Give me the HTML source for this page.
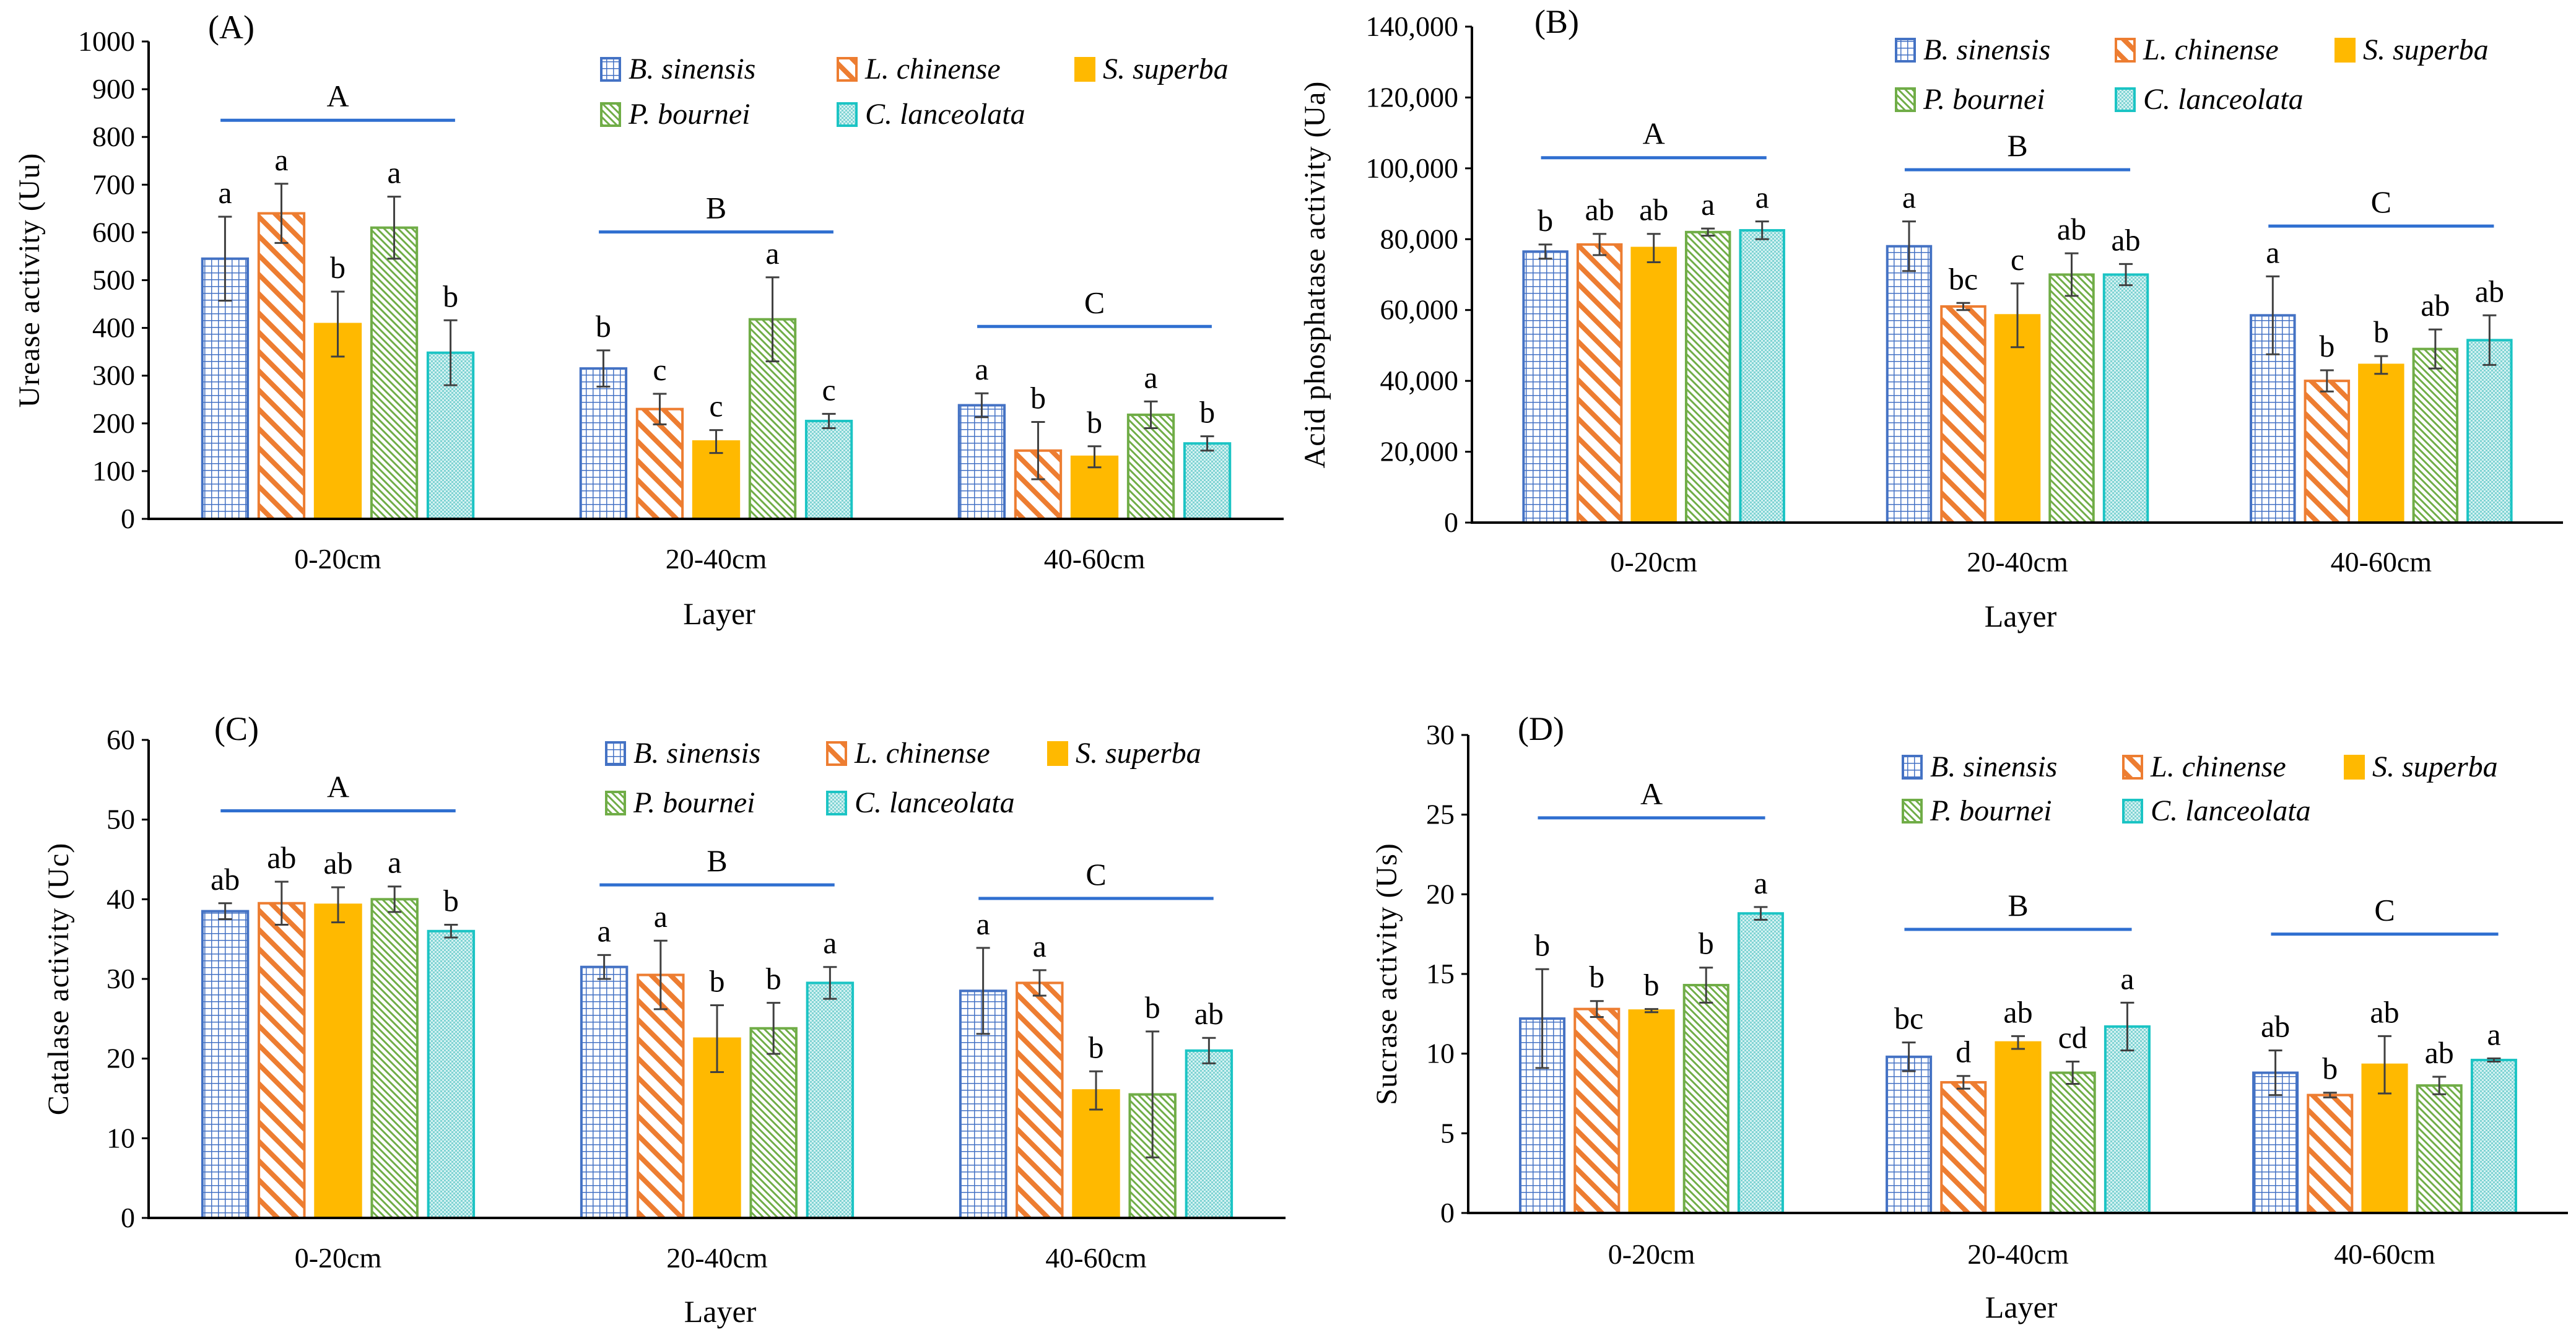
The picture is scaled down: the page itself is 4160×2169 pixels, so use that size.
<!DOCTYPE html>
<html><head><meta charset="utf-8">
<style>
html,body{margin:0;padding:0;background:#fff;}
svg, svg text{font-family:"Liberation Serif","Times New Roman",serif;}
svg{display:block;}
</style></head>
<body>
<svg id="chart" width="4160" height="2169" viewBox="0 0 4160 2169" xmlns="http://www.w3.org/2000/svg" font-family="Liberation Serif, serif">
<defs>
<pattern id="p0" patternUnits="userSpaceOnUse" width="11" height="11"><rect width="11" height="11" fill="#fff"/><path d="M0 0H11M0 0V11" stroke="#4472C4" stroke-width="3"/></pattern>
<pattern id="p1" patternUnits="userSpaceOnUse" width="22" height="22" patternTransform="rotate(-45)"><rect width="22" height="22" fill="#fff"/><rect width="8" height="22" fill="#ED7D31"/></pattern>
<pattern id="p2" patternUnits="userSpaceOnUse" width="10" height="10"><rect width="10" height="10" fill="#FFB900"/></pattern>
<pattern id="p3" patternUnits="userSpaceOnUse" width="8" height="8" patternTransform="rotate(-45)"><rect width="8" height="8" fill="#fff"/><rect width="3" height="8" fill="#70AD47"/></pattern>
<pattern id="p4" patternUnits="userSpaceOnUse" width="6" height="6"><rect width="6" height="6" fill="#d4f2f2"/><rect width="3" height="3" fill="#7fd3d3"/><rect x="3" y="3" width="3" height="3" fill="#7fd3d3"/></pattern>
</defs>
<g id="root" font-family="Liberation Serif, serif"></g>
</svg>
<script>
const categories = ["0-20cm","20-40cm","40-60cm"];
const species = ["B. sinensis","L. chinense","S. superba","P. bournei","C. lanceolata"];
const ureaseMean = [[545,640,408,610,348],[315,230,162,418,205],[238,143,130,218,158]];
const ureaseErr  = [[88,62,68,65,68],[38,32,24,88,15],[25,60,22,28,15]];
const ureaseLetters = [["a","a","b","a","b"],["b","c","c","a","c"],["a","b","b","a","b"]];
const ureaseGroup = ["A","B","C"];
const ureaseGroupY = [835,601,403];

const acidMean = [[76500,78500,77500,82000,82500],[78000,61000,58500,70000,70000],[58500,40000,44500,49000,51500]];
const acidErr  = [[2000,3000,4000,1000,2500],[7000,1000,9000,6000,3000],[11000,3000,2500,5500,7000]];
const acidLetters = [["b","ab","ab","a","a"],["a","bc","c","ab","ab"],["a","b","b","ab","ab"]];
const acidGroup = ["A","B","C"];
const acidGroupY = [103000,99600,83700];

const catalaseMean = [[38.5,39.5,39.3,40,36],[31.5,30.5,22.5,23.8,29.5],[28.5,29.5,16,15.5,21]];
const catalaseErr  = [[1,2.7,2.2,1.6,0.8],[1.5,4.3,4.2,3.2,2],[5.4,1.6,2.4,7.9,1.6]];
const catalaseLetters = [["ab","ab","ab","a","b"],["a","a","b","b","a"],["a","a","b","b","ab"]];
const catalaseGroup = ["A","B","C"];
const catalaseGroupY = [51.1,41.8,40.1];

const sucraseMean = [[12.2,12.8,12.7,14.3,18.8],[9.8,8.2,10.7,8.8,11.7],[8.8,7.4,9.3,8.0,9.6]];
const sucraseErr  = [[3.1,0.5,0.1,1.1,0.4],[0.9,0.4,0.4,0.7,1.5],[1.4,0.15,1.8,0.55,0.1]];
const sucraseLetters = [["b","b","b","b","a"],["bc","d","ab","cd","a"],["ab","b","ab","ab","a"]];
const sucraseGroup = ["A","B","C"];
const sucraseGroupY = [24.8,17.8,17.5];

const ureaseTicks = [0,100,200,300,400,500,600,700,800,900,1000];
const acidTicks = [0,20000,40000,60000,80000,100000,120000,140000];
const catalaseTicks = [0,10,20,30,40,50,60];
const sucraseTicks = [0,5,10,15,20,25,30];

const colors = ["#4472C4","#ED7D31","#FFB900","#70AD47","#1BC4C4"];
const NS = "http://www.w3.org/2000/svg";
const root = document.getElementById("root");
function mk(tag, attrs, parent, text){
  const e = document.createElementNS(NS, tag);
  for (const k in attrs) e.setAttribute(k, attrs[k]);
  if (tag === "text") e.setAttribute("font-family", "Liberation Serif, Times New Roman, serif");
  if (text !== undefined) e.textContent = text;
  (parent || root).appendChild(e);
  return e;
}
function fmt(v, comma){ return comma ? v.toLocaleString("en-US") : String(v); }

const panels = [
 {id:"a", label:"(A)", ytitle:"Urease activity (Uu)", mean:ureaseMean, err:ureaseErr, letters:ureaseLetters, group:ureaseGroup, groupY:ureaseGroupY, ticks:ureaseTicks, comma:false,
  x0:240, x1:2073, y0:838, y1:67, lx:336, ly:62, legX:971, legY:[111,184], legDx:[0,382,766], ytx:48, catY:918, layerY:1008},
 {id:"b", label:"(B)", ytitle:"Acid phosphatase activity (Ua)", mean:acidMean, err:acidErr, letters:acidLetters, group:acidGroup, groupY:acidGroupY, ticks:acidTicks, comma:true,
  x0:2377, x1:4139, y0:844, y1:43, lx:2478, ly:53, legX:3062, legY:[80,160], legDx:[0,355,710], ytx:2124, catY:923, layerY:1012},
 {id:"c", label:"(C)", ytitle:"Catalase activity (Uc)", mean:catalaseMean, err:catalaseErr, letters:catalaseLetters, group:catalaseGroup, groupY:catalaseGroupY, ticks:catalaseTicks, comma:false,
  x0:240, x1:2076, y0:1967, y1:1195, lx:346, ly:1195, legX:979, legY:[1216,1296], legDx:[0,357,714], ytx:95, catY:2047, layerY:2135},
 {id:"d", label:"(D)", ytitle:"Sucrase activity (Us)", mean:sucraseMean, err:sucraseErr, letters:sucraseLetters, group:sucraseGroup, groupY:sucraseGroupY, ticks:sucraseTicks, comma:false,
  x0:2371, x1:4147, y0:1959, y1:1187, lx:2451, ly:1195, legX:3073, legY:[1238,1309], legDx:[0,356,714], ytx:2240, catY:2041, layerY:2128}
];

panels.forEach(p => {
  const g = mk("g", {});
  
  
  const ymax = p.ticks[p.ticks.length-1];
  const Y = v => p.y0 - (v / ymax) * (p.y0 - p.y1);
  const gw = (p.x1 - p.x0) / 3;
  const X = (ci, si) => p.x0 + (ci + 0.5) * gw + (si - 2) * gw * 0.149;
  const bw = gw * 0.12;

  p.ticks.forEach(t => {
    const tl = mk("line", {x1:p.x0-11, x2:p.x0, y1:Y(t), y2:Y(t), stroke:"#000","stroke-width":3}, g);
    
    
    const tt = mk("text", {x:p.x0-22, y:Y(t)+15, "text-anchor":"end","font-size":46}, g, fmt(t, p.comma));
    
    
  });
  const yc = (p.y0 + p.y1) / 2;
  const yt = mk("text", {x:p.ytx, y:yc, "text-anchor":"middle","font-size":48, "letter-spacing":"1", transform:`rotate(-90 ${p.ytx} ${yc})`, dy:"15"}, g, p.ytitle);
  
  

  categories.forEach((c, ci) => {
    species.forEach((s, si) => {
      const v = p.mean[ci][si], e = p.err[ci][si];
      const cx = X(ci, si);
      const r = mk("rect", {x:cx-bw/2, y:Y(v), width:bw, height:p.y0-Y(v), fill:`url(#p${si})`, stroke:colors[si], "stroke-width":4}, g);
      
      
      const eb = mk("path", {d:`M${cx} ${Y(v+e)}V${Y(v-e)}M${cx-11} ${Y(v+e)}H${cx+11}M${cx-11} ${Y(v-e)}H${cx+11}`, stroke:"#404040","stroke-width":3, fill:"none"}, g);
      
      
      const lt = mk("text", {x:cx, y:Y(v+e)-22, "text-anchor":"middle","font-size":50}, g, p.letters[ci][si]);
      
      
    });
    const gc = p.x0 + (ci + 0.5) * gw;
    const gl = mk("line", {x1:gc-gw*0.31, x2:gc+gw*0.31, y1:Y(p.groupY[ci]), y2:Y(p.groupY[ci]), stroke:"#2F6FD0","stroke-width":5}, g);
    
    
    const gt = mk("text", {x:gc, y:Y(p.groupY[ci])-22, "text-anchor":"middle","font-size":50}, g, p.group[ci]);
    
    
    const cl = mk("text", {x:gc, y:p.catY, "text-anchor":"middle","font-size":46}, g, c);
    
    
  });

  const ax = mk("path", {d:`M${p.x0} ${p.y1}V${p.y0}H${p.x1}`, stroke:"#000","stroke-width":4, fill:"none"}, g);
  
  

  const xt = mk("text", {x:(p.x0+p.x1)/2 + 5, y:p.layerY, "text-anchor":"middle","font-size":50}, g, "Layer");
  
  

  const pl = mk("text", {x:p.lx, y:p.ly, "font-size":54}, g, p.label);
  
  

  species.forEach((s, si) => {
    const row = si < 3 ? 0 : 1, col = si < 3 ? si : si - 3;
    const lx = p.legX + p.legDx[col], ly = p.legY[row];
    const lg = mk("g", {}, g);
    
    
    mk("rect", {x:lx, y:ly-17, width:30, height:36, fill:`url(#p${si})`, stroke:colors[si], "stroke-width":4}, lg);
    mk("text", {x:lx+44, y:ly+16, "font-size":48, "font-style":"italic"}, lg, s);
  });
});
</script>
</body></html>
